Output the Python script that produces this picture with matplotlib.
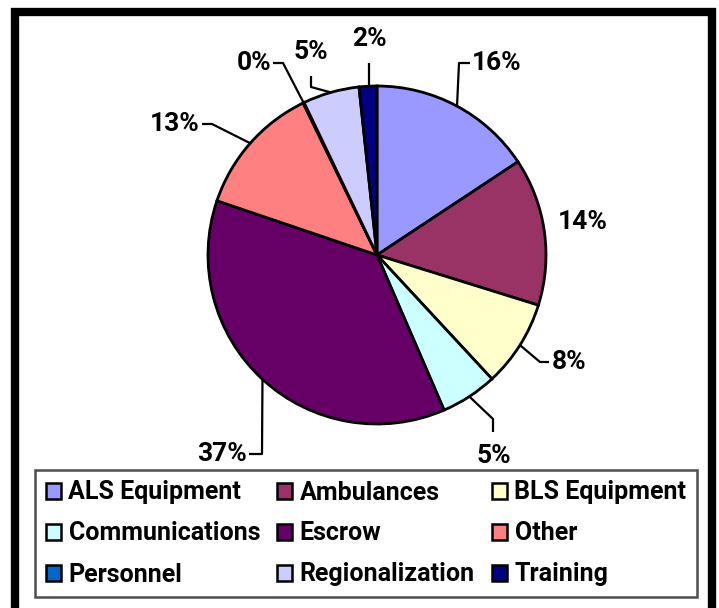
import numpy as np
import matplotlib
matplotlib.use("Agg")
import matplotlib.pyplot as plt
from matplotlib.patches import Rectangle, Patch

# data (share of total, percent)
categories = ['ALS Equipment', 'Ambulances', 'BLS Equipment', 'Communications',
              'Escrow', 'Other', 'Personnel', 'Regionalization', 'Training']
shares = [15.7, 14.1, 8.3, 5.4, 36.7, 12.6, 0.1, 5.4, 1.7]
colors = ['#9999FF', '#993366', '#FFFFCC', '#CCFFFF', '#660066',
          '#FF8080', '#0066CC', '#CCCCFF', '#000080']

plt.rcParams['font.family'] = ['Roboto', 'DejaVu Sans']
plt.rcParams['font.weight'] = 'bold'

W, H = 719, 608
CX, CY, R = 377, 255, 169   # pie centre / radius in pixels


def px(x, y):
    return (x - CX) / R, (CY - y) / R


fig = plt.figure(figsize=(W / 100, H / 100), dpi=100)
ax = fig.add_axes([0, 0, 1, 1])
ax.axis('off')

wedges, _ = ax.pie(shares, colors=colors, startangle=90, counterclock=False,
                   radius=1, center=(0, 0),
                   wedgeprops=dict(edgecolor='black', linewidth=2.0))
ax.set_xlim(-CX / R, (W - CX) / R)
ax.set_ylim((CY - H) / R, CY / R)

# label layout: (leader elbow, leader end, text pos, ha) in pixels
layout = [
    ((459, 63), (470, 63), (472, 63), 'left'),
    (None, None, (558, 222), 'left'),
    ((540, 362), (549, 362), (552, 362), 'left'),
    ((493, 419), (493, 432), (494, 456), 'center'),
    ((262, 454), (249, 454), (247, 454), 'right'),
    ((212, 124), (202, 124), (200, 124), 'right'),
    ((283, 63), (273, 63), (271, 63), 'right'),
    ((311, 87), (311, 76), (311, 52), 'center'),
    ((369, 86), (369, 63), (369, 39), 'center'),
]

fs = 19
for w, v, (elbow, end, tpos, ha) in zip(wedges, shares, layout):
    ang = np.deg2rad((w.theta1 + w.theta2) / 2)
    edge = (np.cos(ang), np.sin(ang))
    if elbow is not None:
        e = px(*elbow)
        n = px(*end)
        ax.plot([edge[0], e[0], n[0]], [edge[1], e[1], n[1]],
                color='black', lw=1.6, solid_capstyle='butt')
    ax.text(*px(*tpos), f'{v:.0f}%', ha=ha, va='center',
            fontsize=fs, fontweight='bold')

# legend, filled row by row like the original
handles = [Patch(facecolor=c, edgecolor='black', linewidth=1.8) for c in colors]
order = [0, 3, 6, 1, 4, 7, 2, 5, 8]
leg = fig.legend([handles[i] for i in order], [categories[i] for i in order],
                 ncol=3, loc='upper left',
                 bbox_to_anchor=(35 / W, 1 - 593 / H, (697 - 35) / W, (593 - 470) / H),
                 mode='expand', fontsize=18, frameon=True, fancybox=False,
                 handlelength=0.62, handleheight=0.62, handletextpad=0.3,
                 labelspacing=0.68, borderaxespad=0, borderpad=0.42,
                 columnspacing=0.3)
leg.get_frame().set_edgecolor('#222222')
leg.get_frame().set_linewidth(1.8)

# outer thick frame
fig.patches.append(Rectangle((15 / W, -6 / H), (712 - 15) / W, (614 - 12) / H,
                             transform=fig.transFigure, fill=False,
                             edgecolor='black', linewidth=6, clip_on=False))

fig.savefig('out.png', dpi=100)
